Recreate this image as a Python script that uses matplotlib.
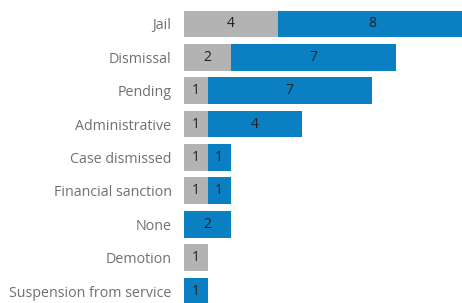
import matplotlib
matplotlib.use("Agg")
import matplotlib.pyplot as plt
import numpy as np

plt.rcParams['font.family'] = ['Open Sans', 'DejaVu Sans']

categories = ['Jail', 'Dismissal', 'Pending', 'Administrative', 'Case dismissed',
              'Financial sanction', 'None', 'Demotion', 'Suspension from service']
gray_vals = [4, 2, 1, 1, 1, 1, 0, 1, 0]
blue_vals = [8, 7, 7, 4, 1, 1, 2, 0, 1]

gray_col = '#b3b3b3'
blue_col = '#0a7fc1'

W, H = 462, 303
fig = plt.figure(figsize=(W / 100, H / 100), dpi=100)
unit = 23.5
left = 184
ax = fig.add_axes([left / W, -4.7 / H, 1 - left / W, 300.5 / H])

y = np.arange(len(categories))
g = np.array(gray_vals)
b = np.array(blue_vals)
ax.barh(y, g, height=0.8, color=gray_col)
ax.barh(y, b, left=g, height=0.8, color=blue_col)

for i in range(len(categories)):
    if g[i] > 0:
        ax.text(g[i] / 2, y[i], str(g[i]), ha='center', va='center', fontsize=10, color='#222222')
    if b[i] > 0:
        ax.text(g[i] + b[i] / 2, y[i], str(b[i]), ha='center', va='center', fontsize=10, color='#222222')

ax.set_xlim(0, (W - left) / unit)
ax.set_ylim(len(categories) - 0.5, -0.5)
ax.set_yticks(y)
ax.set_yticklabels(categories, fontsize=10.3, color='#707070')
ax.tick_params(axis='y', length=0, pad=9)
ax.set_xticks([])
for s in ax.spines.values():
    s.set_visible(False)

fig.savefig('out.png', dpi=100)
